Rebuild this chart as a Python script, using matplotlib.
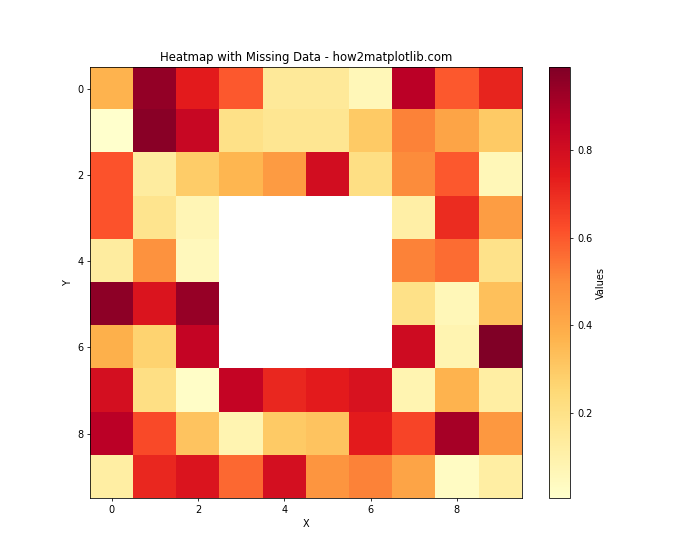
import numpy as np
import matplotlib
matplotlib.use("Agg")
import matplotlib.pyplot as plt

nan = np.nan
row0 = [0.37, 0.95, 0.74, 0.60, 0.15, 0.15, 0.06, 0.87, 0.60, 0.72]
row1 = [0.005, 0.97, 0.83, 0.20, 0.17, 0.17, 0.30, 0.52, 0.42, 0.30]
row2 = [0.61, 0.13, 0.29, 0.36, 0.45, 0.80, 0.21, 0.50, 0.60, 0.06]
row3 = [0.61, 0.18, 0.07, nan, nan, nan, nan, 0.11, 0.70, 0.44]
row4 = [0.13, 0.48, 0.05, nan, nan, nan, nan, 0.52, 0.56, 0.19]
row5 = [0.96, 0.77, 0.94, nan, nan, nan, nan, 0.20, 0.06, 0.33]
row6 = [0.38, 0.27, 0.84, nan, nan, nan, nan, 0.81, 0.08, 0.99]
row7 = [0.79, 0.21, 0.02, 0.84, 0.71, 0.74, 0.78, 0.08, 0.37, 0.12]
row8 = [0.87, 0.63, 0.32, 0.08, 0.30, 0.32, 0.74, 0.64, 0.91, 0.46]
row9 = [0.12, 0.71, 0.77, 0.57, 0.79, 0.47, 0.52, 0.42, 0.03, 0.12]

data = np.array([row0, row1, row2, row3, row4, row5, row6, row7, row8, row9])

fig, ax = plt.subplots(figsize=(10, 8), dpi=70)
im = ax.imshow(data, cmap="YlOrRd")
cbar = fig.colorbar(im, ax=ax)
cbar.set_label("Values")
ax.set_title("Heatmap with Missing Data - how2matplotlib.com")
ax.set_xlabel("X")
ax.set_ylabel("Y")
fig.savefig("out.png")
